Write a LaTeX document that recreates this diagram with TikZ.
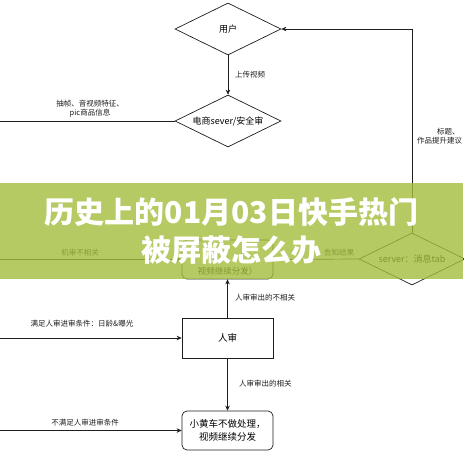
\documentclass[tikz,border=0pt]{standalone}
\usepackage{fontspec}
\setmainfont{Noto Sans CJK SC}
\usetikzlibrary{shapes.geometric,arrows.meta}
\definecolor{ink}{HTML}{1E1E1E}
\definecolor{banner}{HTML}{A3BD3B}
\tikzset{
  decide/.style={draw=ink, diamond, aspect=2, minimum width=106pt, minimum height=52pt, inner sep=0pt, line width=0.7pt, font=\fontsize{9}{11}\selectfont},
  proc/.style={draw=ink, rectangle, minimum width=91pt, minimum height=40pt, align=center, line width=0.7pt, font=\fontsize{9.5}{13}\selectfont},
  term/.style={proc, rounded corners=5pt},
  flow/.style={draw=ink, line width=0.7pt, -{Stealth[length=5pt,width=4.5pt]}},
  wire/.style={draw=ink, line width=0.7pt},
  lab/.style={text=ink, inner sep=1pt, align=center, font=\fontsize{7.5}{9.5}\selectfont},
  title/.style={text=white, align=center, font=\fontsize{30}{38}\selectfont\bfseries},
}

\begin{document}
\begin{tikzpicture}[x=1pt,y=-1pt]
  \useasboundingbox[fill=white] (0,0) rectangle (463,463);
  % boxes
  \node[decide] (user) at (228,29) {用户};
  \node[decide] (shop) at (228,121) {电商sever/安全审};
  \node[term, minimum height=39pt] (pass) at (227.5,259.5) {};
  \node[inner sep=0pt, font=\fontsize{8.5}{10}\selectfont] (passtxt) at (227.5,271) {视频继续分发）};
  \node[decide] (msg) at (412,259) {server：消息tab};
  \node[proc] (human) at (227.5,338) {人审};
  \node[term, minimum height=39pt] (cart) at (227.5,430.5) {小黄车不做处理，\\视频继续分发};
  % free ends
  \coordinate (inA) at (0,121);
  \coordinate (inB) at (0,259.5);
  \coordinate (inC) at (0,338);
  \coordinate (inD) at (0,430.5);
  \coordinate (turn) at (412,29);
  % connectors
  \draw[flow] (user) -- (shop);
  \node[lab, anchor=west] at (234,75) {上传视频};
  \draw[wire] (shop.west) -- (inA);
  \node[lab] at (90,108.5) {抽帧、音视频特征、\\pic商品信息};
  \draw[flow] (msg.north) -- (turn) -- (user.east);
  \node[lab, anchor=west] at (436,132) {标题、};
  \node[lab, anchor=west] at (416,141) {作品提升建议};
  \draw[wire] (pass.east) -- (msg.west);
  \node[lab] at (339,253) {告知结果};
  \draw[flow] (inB) -- (pass.west);
  \node[lab] at (80,253) {机审不相关};
  \draw[flow] (human) -- (pass);
  \node[lab, anchor=west] at (234,298) {人审审出的不相关};
  \draw[flow] (inC) -- (human.west);
  \node[lab] at (82,324) {满足人审进审条件：日龄\&曝光};
  \draw[flow] (human) -- (cart);
  \node[lab, anchor=west] at (238,384) {人审审出的相关};
  \draw[flow] (inD) -- (cart.west);
  \node[lab] at (85,423) {不满足人审进审条件};
  % banner
  \fill[banner, opacity=0.8] (0,183) rectangle (463,279);
  \node[title] (head) at (231.5,231) {历史上的01月03日快手热门\\被屏蔽怎么办};
\end{tikzpicture}
\end{document}
